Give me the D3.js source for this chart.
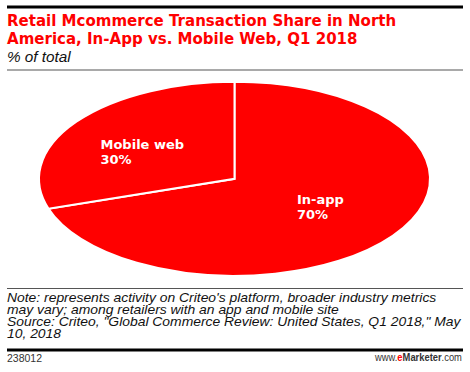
<!DOCTYPE html>
<html><head><meta charset="utf-8">
<script src="https://cdn.jsdelivr.net/npm/d3@7"></script>
<style>body{margin:0;background:#fff}svg{display:block}</style>
</head><body>
<script>
const categories = ["In-app", "Mobile web"];
const values = [70, 30];
const titleLines = ["Retail Mcommerce Transaction Share in North", "America, In-App vs. Mobile Web, Q1 2018"];
const subtitle = "% of total";
const noteLines = ["Note: represents activity on Criteo's platform, broader industry metrics", "may vary; among retailers with an app and mobile site", "Source: Criteo, \"Global Commerce Review: United States, Q1 2018,\" May", "10, 2018"];
const chartId = "238012";

const W = 470, H = 372;
const svg = d3.select("body").append("svg").attr("width", W).attr("height", H);
const font = "'Liberation Sans', Arial, sans-serif";
const bold = "'DejaVu Sans', sans-serif";

// fit a group of text lines horizontally so the first line reaches targetWidth
function fitGroup(gSel, x, targetWidth) {
  const first = gSel.select("text").node();
  const w = first.getComputedTextLength();
  const k = targetWidth / w;
  gSel.attr("transform", `translate(${x},0) scale(${k},1)`);
}

svg.append("rect").attr("x", 7).attr("y", 5.5).attr("width", 456).attr("height", 3).attr("fill", "#000");
const tg = svg.append("g");
titleLines.forEach((t, i) => {
  tg.append("text").attr("x", 0).attr("y", 26.5 + i * 17.3).text(t)
    .attr("font-family", bold).attr("font-weight", "bold").attr("font-size", 15.2)
    .attr("fill", "#ff0000");
});
fitGroup(tg, 7, 389);
svg.append("text").attr("x", 7).attr("y", 62).text(subtitle)
  .attr("font-family", font).attr("font-style", "italic").attr("font-size", 15.3).attr("fill", "#111");
svg.append("rect").attr("x", 7).attr("y", 69.5).attr("width", 456).attr("height", 1).attr("fill", "#555");

// pie
const cx = 234.5, cy = 178.8, rx = 195.5, ry = 97;
const pie = d3.pie().sort(null).value(d => d.v).startAngle(0).endAngle(2 * Math.PI);
const data = pie(categories.map((c, i) => ({ c, v: values[i] })));
const arc = d3.arc().innerRadius(0).outerRadius(1);
const g = svg.append("g").attr("transform", `translate(${cx},${cy}) scale(${rx},${ry})`);
g.selectAll("path").data(data).enter().append("path")
  .attr("d", arc).attr("fill", "#ff0000")
  .attr("stroke", "#fff").attr("stroke-width", 2).attr("vector-effect", "non-scaling-stroke");

const labelPos = { "In-app": [297, 204], "Mobile web": [100.5, 149] };
data.forEach(d => {
  const [x, y] = labelPos[d.data.c];
  const t = svg.append("text").attr("font-family", bold).attr("font-weight", "bold")
    .attr("font-size", 13).attr("fill", "#fff");
  t.append("tspan").attr("x", x).attr("y", y).text(d.data.c);
  t.append("tspan").attr("x", x).attr("y", y + 14.5).text(d.data.v + "%");
});

// footer
svg.append("rect").attr("x", 7).attr("y", 288).attr("width", 456).attr("height", 1).attr("fill", "#555");
const ng = svg.append("g");
noteLines.forEach((t, i) => {
  ng.append("text").attr("x", 0).attr("y", 302.5 + i * 12).text(t)
    .attr("font-family", font).attr("font-style", "italic").attr("font-size", 13).attr("fill", "#111");
});
fitGroup(ng, 7, 430);
svg.append("rect").attr("x", 7).attr("y", 348.5).attr("width", 456).attr("height", 3).attr("fill", "#000");
svg.append("text").attr("x", 7).attr("y", 362).text(chartId)
  .attr("font-family", font).attr("font-size", 10.5).attr("fill", "#333");
const eg = svg.append("g");
const em = eg.append("text").attr("x", 0).attr("y", 361)
  .attr("font-family", font).attr("font-size", 11).attr("fill", "#333");
em.append("tspan").text("www.");
em.append("tspan").text("e").attr("fill", "#ff0000").attr("font-weight", "bold");
em.append("tspan").text("Marketer").attr("font-weight", "bold");
em.append("tspan").text(".com");
const ew = em.node().getComputedTextLength();
const ek = 87 / ew;
eg.attr("transform", `translate(${462 - 87},0) scale(${ek},1)`);
</script>
</body></html>
